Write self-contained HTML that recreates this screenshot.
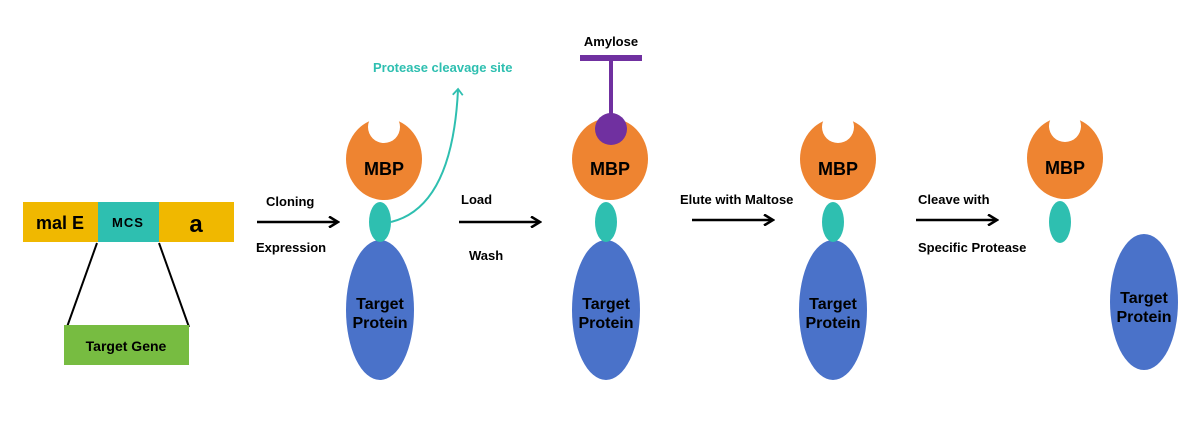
<!DOCTYPE html>
<html><head><style>body{margin:0;background:#fff}svg{display:block}text{font-family:"Liberation Sans",Arial,sans-serif;font-weight:bold}</style></head>
<body>
<svg width="1200" height="438" viewBox="0 0 1200 438" xmlns="http://www.w3.org/2000/svg">
<defs>
<marker id="ah" markerWidth="12" markerHeight="12" refX="9" refY="6" orient="auto" markerUnits="userSpaceOnUse"><path d="M1,0.5 L10,6 L1,11.5" fill="none" stroke="#000" stroke-width="2.5"/></marker>
<marker id="ahc" markerWidth="12" markerHeight="12" refX="6" refY="6" orient="auto" markerUnits="userSpaceOnUse"><path d="M1,1 L7,6 L1,11" fill="none" stroke="#2EBFB0" stroke-width="1.8"/></marker>
</defs>
<rect x="23" y="202" width="75" height="40" fill="#F0B800"/>
<rect x="98" y="202" width="61" height="40" fill="#2EBFB0"/>
<rect x="159" y="202" width="75" height="40" fill="#F0B800"/>
<text x="60" y="229" font-size="18" text-anchor="middle">mal E</text>
<text x="128" y="227" font-size="13" text-anchor="middle" font-weight="600" letter-spacing="1">MCS</text>
<text x="196" y="232" font-size="24" text-anchor="middle">a</text>
<line x1="97" y1="243" x2="67" y2="327" stroke="#000" stroke-width="2"/>
<line x1="159" y1="243" x2="189" y2="327" stroke="#000" stroke-width="2"/>
<rect x="64" y="325" width="125" height="40" fill="#77BC41"/>
<text x="126" y="351" font-size="14" text-anchor="middle">Target Gene</text>

<line x1="257" y1="222" x2="337" y2="222" stroke="#000" stroke-width="2.5" marker-end="url(#ah)"/>
<text x="266" y="206" font-size="13">Cloning</text>
<text x="256" y="252" font-size="13">Expression</text>
<line x1="459" y1="222" x2="539" y2="222" stroke="#000" stroke-width="2.5" marker-end="url(#ah)"/>
<text x="461" y="204" font-size="13">Load</text>
<text x="469" y="260" font-size="13">Wash</text>
<line x1="692" y1="220" x2="772" y2="220" stroke="#000" stroke-width="2.5" marker-end="url(#ah)"/>
<text x="680" y="204" font-size="13">Elute with Maltose</text>
<line x1="916" y1="220" x2="996" y2="220" stroke="#000" stroke-width="2.5" marker-end="url(#ah)"/>
<text x="918" y="204" font-size="13">Cleave with</text>
<text x="918" y="252" font-size="13">Specific Protease</text>

<ellipse cx="380" cy="310" rx="34" ry="70" fill="#4A72C9"/>
<text x="380" y="309" font-size="16" text-anchor="middle">Target</text>
<text x="380" y="328" font-size="16" text-anchor="middle">Protein</text>
<ellipse cx="380" cy="222" rx="11" ry="20" fill="#2EBFB0"/>
<ellipse cx="384" cy="159" rx="38" ry="41" fill="#EE8431"/>
<circle cx="384" cy="127" r="16" fill="#fff"/>
<text x="384" y="175" font-size="18" text-anchor="middle">MBP</text>
<path d="M391,222 C440,210 455,150 458,90" fill="none" stroke="#2EBFB0" stroke-width="2" marker-end="url(#ahc)"/>
<text x="373" y="72" font-size="13" fill="#2EBFB0">Protease cleavage site</text>

<ellipse cx="606" cy="310" rx="34" ry="70" fill="#4A72C9"/>
<text x="606" y="309" font-size="16" text-anchor="middle">Target</text>
<text x="606" y="328" font-size="16" text-anchor="middle">Protein</text>
<ellipse cx="606" cy="222" rx="11" ry="20" fill="#2EBFB0"/>
<ellipse cx="610" cy="159" rx="38" ry="41" fill="#EE8431"/>
<line x1="611" y1="58" x2="611" y2="118" stroke="#7030A0" stroke-width="4"/>
<rect x="580" y="55" width="62" height="6" fill="#7030A0"/>
<circle cx="611" cy="129" r="16" fill="#7030A0"/>
<text x="610" y="175" font-size="18" text-anchor="middle">MBP</text>
<text x="611" y="46" font-size="13" text-anchor="middle">Amylose</text>

<ellipse cx="833" cy="310" rx="34" ry="70" fill="#4A72C9"/>
<text x="833" y="309" font-size="16" text-anchor="middle">Target</text>
<text x="833" y="328" font-size="16" text-anchor="middle">Protein</text>
<ellipse cx="833" cy="222" rx="11" ry="20" fill="#2EBFB0"/>
<ellipse cx="838" cy="159" rx="38" ry="41" fill="#EE8431"/>
<circle cx="838" cy="127" r="16" fill="#fff"/>
<text x="838" y="175" font-size="18" text-anchor="middle">MBP</text>

<ellipse cx="1065" cy="158" rx="38" ry="41" fill="#EE8431"/>
<circle cx="1065" cy="126" r="16" fill="#fff"/>
<text x="1065" y="174" font-size="18" text-anchor="middle">MBP</text>
<ellipse cx="1060" cy="222" rx="11" ry="21" fill="#2EBFB0"/>
<ellipse cx="1144" cy="302" rx="34" ry="68" fill="#4A72C9"/>
<text x="1144" y="303" font-size="16" text-anchor="middle">Target</text>
<text x="1144" y="322" font-size="16" text-anchor="middle">Protein</text>
</svg>
</body></html>
